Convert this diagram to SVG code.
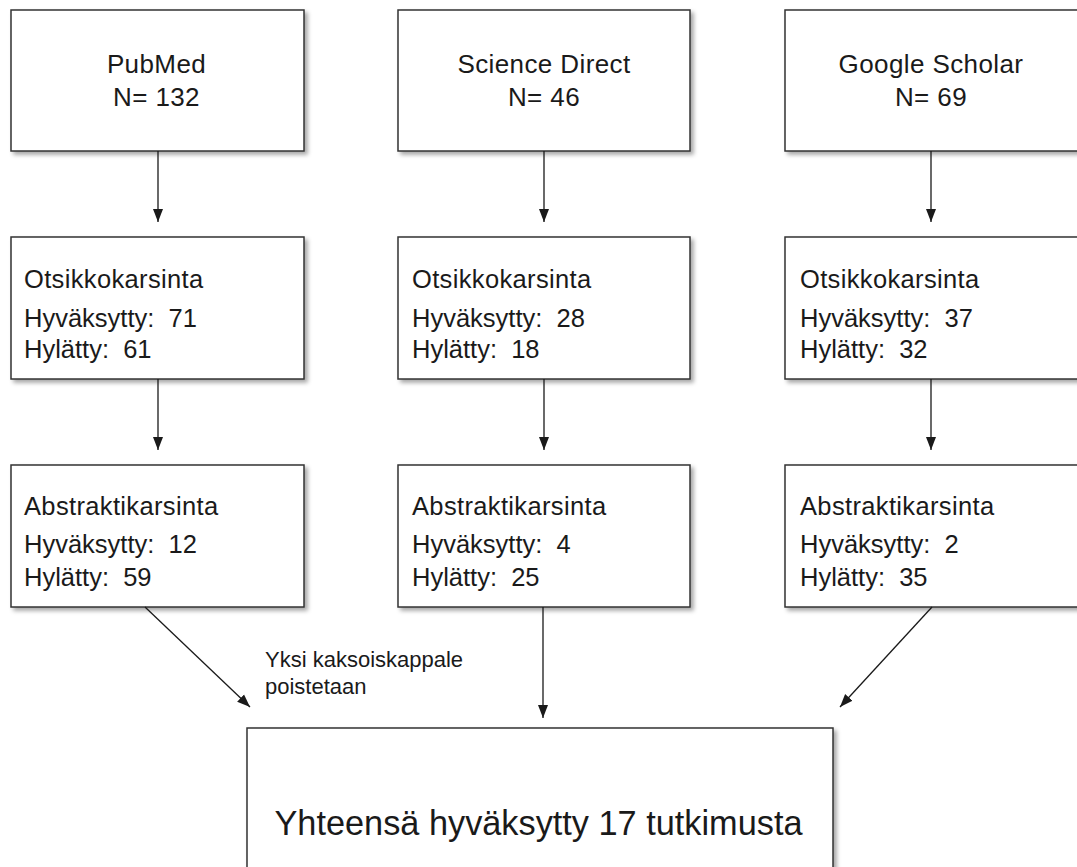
<svg xmlns="http://www.w3.org/2000/svg" width="1077" height="867" viewBox="0 0 1077 867">
<style>
  .box { fill: #ffffff; stroke: #333333; stroke-width: 1.5; filter: url(#shadow); }
  .t { font-family: "Liberation Sans", Arial, sans-serif; fill: #1a1a1a; white-space: pre; }
  .head { font-size: 26px; letter-spacing: 0.4px; text-anchor: middle; }
  .sub { font-size: 25.5px; letter-spacing: 0.35px; }
  .body { font-size: 25.5px; }
  .lbl { font-size: 22px; }
  .big { font-size: 34.3px; text-anchor: middle; }
  .conn line { stroke: #1a1a1a; stroke-width: 1.3; marker-end: url(#arrow); }
</style>
<defs>
  <filter id="shadow" x="-5%" y="-5%" width="115%" height="120%">
    <feDropShadow dx="3" dy="3" stdDeviation="2" flood-color="#000000" flood-opacity="0.35"/>
  </filter>
  <marker id="arrow" markerUnits="userSpaceOnUse" markerWidth="14" markerHeight="12" viewBox="0 0 14 12" refX="13" refY="6" orient="auto">
    <path d="M0,1 L13,6 L0,11 Z" fill="#1a1a1a"/>
  </marker>
</defs>
<rect width="1077" height="867" fill="#ffffff"/>

<g id="pubmed">
  <rect class="box" x="11" y="10" width="293" height="141"/>
  <text class="t head" x="156.5" y="73">PubMed</text>
  <text class="t head" x="156.5" y="106">N= 132</text>
</g>
<g id="sciencedirect">
  <rect class="box" x="398" y="10" width="292" height="141"/>
  <text class="t head" x="544" y="73">Science Direct</text>
  <text class="t head" x="544" y="106">N= 46</text>
</g>
<g id="googlescholar">
  <rect class="box" x="785" y="10" width="294" height="141"/>
  <text class="t head" x="931" y="73">Google Scholar</text>
  <text class="t head" x="931" y="106">N= 69</text>
</g>

<g id="otsikko-pubmed">
  <rect class="box" x="11" y="237" width="293" height="142"/>
  <text class="t sub" x="24" y="288">Otsikkokarsinta</text>
  <text class="t body" x="24" y="327" xml:space="preserve">Hyväksytty:  71</text>
  <text class="t body" x="24" y="358" xml:space="preserve">Hylätty:  61</text>
</g>
<g id="otsikko-science">
  <rect class="box" x="398" y="237" width="292" height="142"/>
  <text class="t sub" x="412" y="288">Otsikkokarsinta</text>
  <text class="t body" x="412" y="327" xml:space="preserve">Hyväksytty:  28</text>
  <text class="t body" x="412" y="358" xml:space="preserve">Hylätty:  18</text>
</g>
<g id="otsikko-google">
  <rect class="box" x="785" y="237" width="294" height="142"/>
  <text class="t sub" x="800" y="288">Otsikkokarsinta</text>
  <text class="t body" x="800" y="327" xml:space="preserve">Hyväksytty:  37</text>
  <text class="t body" x="800" y="358" xml:space="preserve">Hylätty:  32</text>
</g>

<g id="abstrakti-pubmed">
  <rect class="box" x="11" y="465" width="293" height="142"/>
  <text class="t sub" x="24" y="515">Abstraktikarsinta</text>
  <text class="t body" x="24" y="553" xml:space="preserve">Hyväksytty:  12</text>
  <text class="t body" x="24" y="586" xml:space="preserve">Hylätty:  59</text>
</g>
<g id="abstrakti-science">
  <rect class="box" x="398" y="465" width="292" height="142"/>
  <text class="t sub" x="412" y="515">Abstraktikarsinta</text>
  <text class="t body" x="412" y="553" xml:space="preserve">Hyväksytty:  4</text>
  <text class="t body" x="412" y="586" xml:space="preserve">Hylätty:  25</text>
</g>
<g id="abstrakti-google">
  <rect class="box" x="785" y="465" width="294" height="142"/>
  <text class="t sub" x="800" y="515">Abstraktikarsinta</text>
  <text class="t body" x="800" y="553" xml:space="preserve">Hyväksytty:  2</text>
  <text class="t body" x="800" y="586" xml:space="preserve">Hylätty:  35</text>
</g>

<g id="total">
  <rect class="box" x="247" y="728" width="586" height="150"/>
  <text class="t big" x="538.5" y="835">Yhteensä hyväksytty 17 tutkimusta</text>
</g>

<g id="connectors" class="conn">
  <line x1="158" y1="151" x2="158" y2="222"/>
  <line x1="544" y1="151" x2="544" y2="222"/>
  <line x1="931" y1="151" x2="931" y2="222"/>
  <line x1="158" y1="379" x2="158" y2="450"/>
  <line x1="544" y1="379" x2="544" y2="450"/>
  <line x1="931" y1="379" x2="931" y2="450"/>
  <line x1="145" y1="607" x2="250" y2="707"/>
  <line x1="543" y1="607" x2="543" y2="718"/>
  <line x1="932" y1="607" x2="840" y2="707"/>
</g>

<g id="label-duplicate">
  <text class="t lbl" x="265" y="667">Yksi kaksoiskappale</text>
  <text class="t lbl" x="265" y="694">poistetaan</text>
</g>
</svg>
